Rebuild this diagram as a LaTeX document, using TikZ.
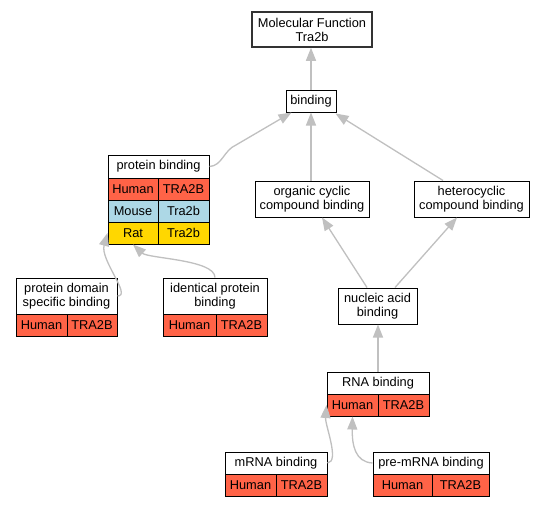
\documentclass[tikz,border=0pt]{standalone}
\usepackage{fontspec}
\setmainfont{Liberation Sans}
\usetikzlibrary{arrows.meta,calc}
\definecolor{humanc}{RGB}{255,99,71}
\definecolor{mousec}{RGB}{173,216,230}
\definecolor{ratc}{RGB}{255,215,0}
\definecolor{edgec}{RGB}{192,192,192}
\newcommand\gvfont{\fontsize{12.8}{14}\selectfont}
\tikzset{
  base/.style={draw=black, line width=1pt, inner sep=0pt, align=center, font=\gvfont},
  hdr/.style={base, fill=white},
  human/.style={base, fill=humanc},
  mouse/.style={base, fill=mousec},
  rat/.style={base, fill=ratc},
  sz/.style 2 args={minimum width=#1pt, minimum height=#2pt},
  edge/.style={draw=edgec, line width=1.3pt, -{Triangle[length=13pt,width=10pt]}}
}
\begin{document}
\begin{tikzpicture}[x=1pt,y=-1pt]
\useasboundingbox[fill=white] (0,0) rectangle (545,507);
% single nodes
\node[hdr, sz={120}{35}, draw=black!80, line width=1.5pt] (mf) at (312,29.5) {Molecular Function\\Tra2b};
\node[hdr, sz={50}{22}] (binding) at (311,101) {binding};
\node[hdr, sz={114}{36}] (org) at (312,199) {organic cyclic\\compound binding};
\node[hdr, sz={115}{36}] (het) at (471.5,199) {heterocyclic\\compound binding};
\node[hdr, sz={79}{36}] (nuc) at (377.5,306) {nucleic acid\\binding};
% protein binding
\node[hdr, sz={101}{23}] (pbh) at (158.5,166.5) {protein binding};
\node[human, sz={50}{22}] (pbr1a) at (133,189) {Human};
\node[human, sz={51}{22}] (pbr1b) at (183.5,189) {TRA2B};
\node[mouse, sz={50}{22}] (pbr2a) at (133,211) {Mouse};
\node[mouse, sz={51}{22}] (pbr2b) at (183.5,211) {Tra2b};
\node[rat, sz={50}{22}] (pbr3a) at (133,233) {Rat};
\node[rat, sz={51}{22}] (pbr3b) at (183.5,233) {Tra2b};
% protein domain specific binding
\node[hdr, sz={101}{36}] (pdsh) at (66.5,296) {protein domain\\specific binding};
\node[human, sz={51}{22}] (pds1a) at (41.5,325) {Human};
\node[human, sz={50}{22}] (pds1b) at (92,325) {TRA2B};
% identical protein binding
\node[hdr, sz={104}{36}] (idh) at (215,296) {identical protein\\binding};
\node[human, sz={53}{22}] (id1a) at (189.5,325) {Human};
\node[human, sz={51}{22}] (id1b) at (241.5,325) {TRA2B};
% RNA binding
\node[hdr, sz={102}{22}] (rh) at (378,383) {RNA binding};
\node[human, sz={51}{22}] (rh1a) at (352.5,405) {Human};
\node[human, sz={51}{22}] (rh1b) at (403.5,405) {TRA2B};
% mRNA binding
\node[hdr, sz={102}{22}] (mh) at (276,463) {mRNA binding};
\node[human, sz={51}{22}] (m1a) at (250.5,485) {Human};
\node[human, sz={51}{22}] (m1b) at (301.5,485) {TRA2B};
% pre-mRNA binding
\node[hdr, sz={116}{22}] (ph) at (431,463) {pre-mRNA binding};
\node[human, sz={59}{22}] (p1a) at (402.5,485) {Human};
\node[human, sz={57}{22}] (p1b) at (460.5,485) {TRA2B};
% edges
\draw[edge] (binding.north) -- (binding.north |- mf.south);
\draw[edge] (pbh.east) .. controls (222,166) and (224,150) .. (236,145) -- ($(binding.south west)+(6,0)$);
\draw[edge] (binding.south |- org.north) -- (binding.south);
\draw[edge] ($(het.north)+(-28.5,0)$) -- ($(binding.south east)+(-1,1)$);
\draw[edge] ($(nuc.north)+(-10.5,0)$) -- ($(org.south)+(10,0)$);
\draw[edge] ($(nuc.north)+(17.5,0)$) -- ($(het.south)+(-14.5,0)$);
\draw[edge] (rh.north) -- (rh.north |- nuc.south);
\draw[edge] (pdsh.east) .. controls (132,296) and (100,260) .. (pbr3a.west);
\draw[edge] (idh.north) .. controls +(0,-18) and +(15,14) .. (pbr3a.south);
\draw[edge] (mh.east) .. controls (340,462) and (325,425) .. (rh1a.west);
\draw[edge] (ph.west) .. controls (355,462) and (352,445) .. (rh1a.south);
\end{tikzpicture}
\end{document}
